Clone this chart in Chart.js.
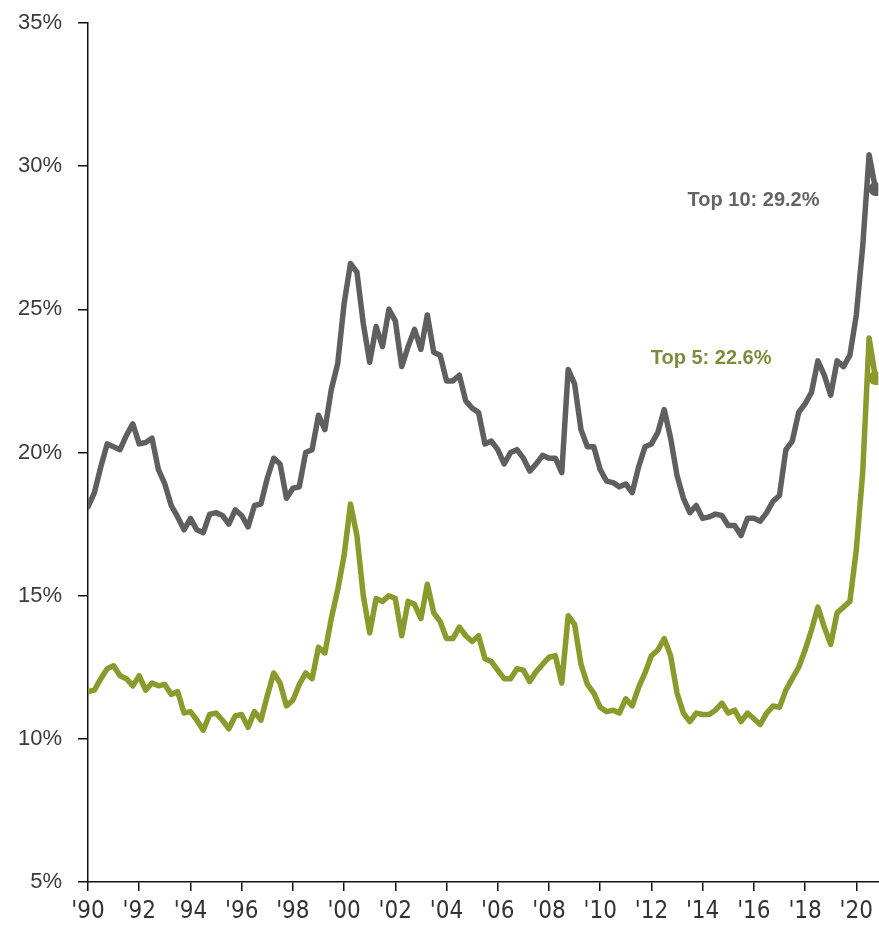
<!DOCTYPE html>
<html>
<head>
<meta charset="utf-8">
<script src="https://cdn.jsdelivr.net/npm/chart.js@4"></script>
<style>
  html, body { margin: 0; padding: 0; background: #fff; }
  #wrap { width: 879px; height: 926px; }
</style>
</head>
<body>
<div id="wrap"><canvas id="concentrationChart"></canvas></div>
<script>
// quarterly share of index market cap, 1990 Q1 .. 2020 Q4
const top10 = [
    18.1, 18.6, 19.5, 20.3, 20.2, 20.1, 20.6, 21.0, 20.3, 20.35, 20.5, 19.4,
    18.9, 18.15, 17.75, 17.3, 17.7, 17.3, 17.2, 17.85, 17.9, 17.8, 17.5, 18.0,
    17.8, 17.4, 18.15, 18.2, 19.1, 19.8, 19.6, 18.4, 18.75, 18.8, 20.0, 20.1,
    21.3, 20.8, 22.2, 23.1, 25.2, 26.6, 26.3, 24.5, 23.15, 24.4, 23.7, 25.0,
    24.6, 23.0, 23.7, 24.3, 23.6, 24.8, 23.5, 23.4, 22.5, 22.5, 22.7, 21.8,
    21.55, 21.4, 20.3, 20.4, 20.1, 19.6, 20.0, 20.1, 19.8, 19.35, 19.6, 19.9,
    19.8, 19.8, 19.3, 22.9, 22.4, 20.8, 20.2, 20.2, 19.4, 19.0, 18.95, 18.8,
    18.9, 18.6, 19.5, 20.2, 20.3, 20.7, 21.5, 20.5, 19.2, 18.4, 17.9, 18.15,
    17.7, 17.75, 17.85, 17.8, 17.45, 17.45, 17.1, 17.7, 17.7, 17.6, 17.9, 18.3,
    18.5, 20.1, 20.4, 21.4, 21.7, 22.1, 23.2, 22.7, 22.0, 23.2, 23.0, 23.4,
    24.8, 27.2, 30.4, 29.2
];
const top5 = [
    11.65, 11.7, 12.1, 12.45, 12.55, 12.2, 12.1, 11.85, 12.2, 11.7, 11.95, 11.85,
    11.9, 11.55, 11.65, 10.9, 10.95, 10.65, 10.3, 10.85, 10.9, 10.65, 10.35, 10.8,
    10.85, 10.4, 10.95, 10.65, 11.5, 12.3, 11.95, 11.15, 11.35, 11.9, 12.3, 12.1,
    13.2, 13.0, 14.2, 15.2, 16.4, 18.2, 17.1, 15.0, 13.7, 14.9, 14.8, 15.0,
    14.9, 13.6, 14.8, 14.7, 14.2, 15.4, 14.4, 14.1, 13.5, 13.5, 13.9, 13.6,
    13.4, 13.6, 12.8, 12.7, 12.4, 12.1, 12.1, 12.45, 12.4, 12.0, 12.35, 12.6,
    12.85, 12.9, 11.95, 14.3, 14.0, 12.6, 11.9, 11.6, 11.1, 10.95, 11.0, 10.9,
    11.4, 11.15, 11.8, 12.3, 12.9, 13.1, 13.5, 12.9, 11.6, 10.9, 10.6, 10.9,
    10.85, 10.85, 11.0, 11.25, 10.9, 11.0, 10.6, 10.9, 10.7, 10.5, 10.9, 11.15,
    11.1, 11.7, 12.1, 12.5, 13.1, 13.8, 14.6, 13.9, 13.3, 14.4, 14.6, 14.8,
    16.6, 19.3, 24.0, 22.6
];
const seriesNames = ["Top 10", "Top 5"];
const yTicks = [5, 10, 15, 20, 25, 30, 35];
const xTickYears = [1990, 1992, 1994, 1996, 1998, 2000, 2002, 2004, 2006, 2008, 2010, 2012, 2014, 2016, 2018, 2020];

const quarters = top10.map((_, i) => 1990 + i / 4);
const toPoints = arr => arr.map((v, i) => ({ x: quarters[i], y: v }));

const GRAY = "#5f5f5f";
const OLIVE = "#8a9a2c";

// radius only on the final observation
const endDot = ctx => ctx.dataIndex === ctx.dataset.data.length - 1 ? 7 : 0;

// "Top 10: 29.2%" style labels next to the last point of each line
const endLabels = {
    id: "endLabels",
    afterDatasetsDraw(chart) {
        const { ctx } = chart;
        const offsets = [{ dx: -56, dy: 11, color: "#646464" }, { dx: -104, dy: -20, color: "#7d8c3a" }];
        chart.data.datasets.forEach((ds, i) => {
            const meta = chart.getDatasetMeta(i);
            const pt = meta.data[meta.data.length - 1];
            const last = ds.data[ds.data.length - 1].y;
            ctx.save();
            ctx.font = "bold 20px 'Liberation Sans', Arial, sans-serif";
            ctx.fillStyle = offsets[i].color;
            ctx.textAlign = "right";
            ctx.textBaseline = "middle";
            ctx.fillText(seriesNames[i] + ": " + last.toFixed(1) + "%", pt.x + offsets[i].dx, pt.y + offsets[i].dy);
            ctx.restore();
        });
    }
};

new Chart(document.getElementById("concentrationChart"), {
    type: "line",
    data: {
        datasets: [{
            label: seriesNames[0],
            data: toPoints(top10),
            borderColor: GRAY,
            backgroundColor: GRAY,
            borderWidth: 5.5,
            borderJoinStyle: "round",
            borderCapStyle: "round",
            pointRadius: endDot,
            pointBorderWidth: 0,
            tension: 0,
            fill: false
        }, {
            label: seriesNames[1],
            data: toPoints(top5),
            borderColor: OLIVE,
            backgroundColor: OLIVE,
            borderWidth: 5.5,
            borderJoinStyle: "round",
            borderCapStyle: "round",
            pointRadius: endDot,
            pointBorderWidth: 0,
            tension: 0,
            fill: false
        }]
    },
    options: {
        responsive: true,
        maintainAspectRatio: false,
        animation: false,
        layout: { autoPadding: false, padding: { top: 23, right: 0, left: 0, bottom: 0 } },
        plugins: { legend: { display: false }, tooltip: { enabled: false } },
        scales: {
            x: {
                type: "linear",
                min: 1990,
                max: 2020.86,
                afterBuildTicks: scale => { scale.ticks = xTickYears.map(v => ({ value: v })); },
                afterFit: scale => { scale.height = 44; },
                border: { display: true, color: "#111", width: 1.5 },
                grid: { display: true, drawOnChartArea: false, drawTicks: true, tickLength: 9, color: "#111", lineWidth: 1.5 },
                ticks: {
                    autoSkip: false,
                    maxRotation: 0,
                    padding: 6,
                    color: "#333",
                    font: { family: "'Liberation Sans Narrow', 'DejaVu Sans Condensed', Arial, sans-serif", size: 24 },
                    callback: v => "'" + String(v).slice(2)
                }
            },
            y: {
                min: 5,
                max: 35,
                afterBuildTicks: scale => { scale.ticks = yTicks.map(v => ({ value: v })); },
                afterFit: scale => {
                    scale.width = 88;
                    scale.paddingTop = 0;
                    scale.paddingBottom = 0;
                },
                border: { display: true, color: "#111", width: 1.5 },
                grid: { display: true, drawOnChartArea: false, drawTicks: true, tickLength: 10, color: "#111", lineWidth: 1.5 },
                ticks: {
                    padding: 16,
                    color: "#3a3a3a",
                    font: { family: "'Liberation Sans', Arial, sans-serif", size: 22 },
                    callback: v => v + "%"
                }
            }
        }
    },
    plugins: [endLabels]
});
</script>
</body>
</html>
